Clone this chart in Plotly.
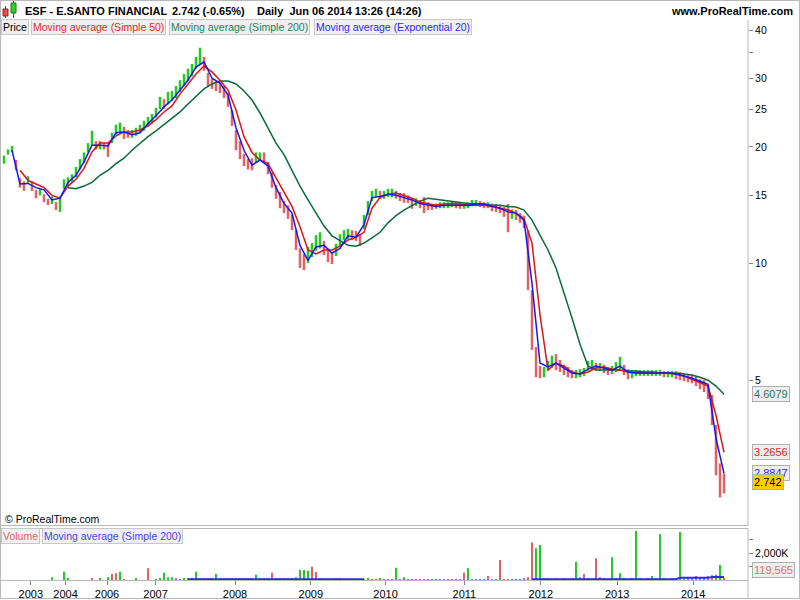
import math
import plotly.graph_objects as go

# ---------------- data ----------------
symbol = "ESF - E.SANTO FINANCIAL"
last_close = 2.742
change_pct = -0.65
stamp = "Daily  Jun 06 2014 13:26 (14:26)"
site = "www.ProRealTime.com"

# price bars (sampled bars, high / low)
high = [
    19.0, 19.7, 20.1, 18.5, 16.6, 16.3, 16.8, 16.3, 15.5, 15.6,
    15.1, 14.7, 14.9, 14.4, 14.9, 16.5, 16.7, 17.0, 17.75, 18.6,
    19.35, 20.45, 22.0, 20.7, 20.7, 20.45, 20.45, 21.75, 22.8, 23.1,
    22.5, 22.1, 22.1, 22.4, 22.8, 23.35, 23.9, 24.3, 25.2, 26.9,
    26.55, 27.7, 27.85, 28.7, 29.7, 30.8, 31.8, 32.7, 34.1, 36.0,
    34.1, 31.0, 29.9, 29.55, 29.2, 28.7, 27.5, 24.9, 22.1, 20.7,
    19.2, 18.6, 18.7, 19.35, 19.35, 19.35, 18.3, 17.2, 15.95, 15.3,
    14.5, 14.15, 13.4, 12.2, 10.95, 10.6, 11.05, 11.3, 11.85, 12.05,
    11.45, 10.95, 10.7, 11.25, 11.9, 12.2, 12.3, 12.2, 12.15, 11.9,
    13.35, 14.5, 15.4, 15.6, 15.4, 15.4, 15.6, 15.6, 15.4, 15.2,
    15.2, 15.0, 14.7, 14.75, 14.6, 14.85, 14.4, 14.25, 14.3, 14.4,
    14.4, 14.4, 14.5, 14.4, 14.3, 14.3, 14.4, 14.6, 14.6, 14.5,
    14.4, 14.4, 14.3, 14.25, 14.15, 14.0, 14.25, 13.8, 13.75, 13.5,
    13.3, 12.2, 8.55, 6.1, 5.45, 5.42, 5.62, 5.8, 5.85, 5.65,
    5.49, 5.42, 5.32, 5.32, 5.35, 5.39, 5.62, 5.65, 5.55, 5.55,
    5.49, 5.42, 5.45, 5.58, 5.75, 5.49, 5.35, 5.32, 5.32, 5.32,
    5.32, 5.32, 5.32, 5.32, 5.32, 5.29, 5.29, 5.29, 5.29, 5.26,
    5.23, 5.2, 5.17, 5.14, 5.04, 5.01, 4.87, 4.59, 3.84, 3.06,
    2.88,
]
low = [
    18.1, 19.1, 19.4, 17.4, 15.7, 15.4, 16.05, 15.4, 14.75, 15.0,
    14.4, 14.15, 14.25, 13.75, 13.6, 15.6, 15.8, 16.2, 16.7, 17.5,
    18.2, 19.35, 20.2, 19.7, 19.7, 19.7, 18.85, 20.45, 21.5, 21.75,
    20.95, 21.1, 21.1, 21.35, 21.75, 22.0, 22.5, 22.95, 23.8, 25.05,
    25.05, 25.75, 26.25, 26.7, 27.7, 28.7, 29.55, 30.4, 31.8, 32.5,
    31.4, 28.55, 28.2, 27.85, 27.5, 26.7, 25.35, 22.65, 19.6, 18.6,
    17.85, 17.5, 17.4, 18.2, 18.4, 18.2, 17.0, 15.7, 14.7, 13.9,
    13.5, 13.05, 12.2, 10.85, 9.75, 9.63, 10.05, 10.4, 10.8, 10.95,
    10.53, 10.1, 9.98, 10.47, 11.1, 11.5, 11.55, 11.5, 11.45, 11.1,
    12.3, 13.35, 14.5, 14.85, 14.7, 14.7, 14.85, 14.85, 14.7, 14.5,
    14.35, 14.35, 13.85, 14.1, 13.9, 13.5, 13.75, 13.75, 13.85, 13.9,
    13.9, 13.9, 14.0, 13.9, 13.85, 13.85, 13.9, 14.05, 14.05, 14.0,
    13.9, 13.9, 13.65, 13.6, 13.5, 13.2, 12.05, 13.05, 12.96, 12.75,
    12.35, 8.55, 6.0, 5.1, 5.07, 5.1, 5.3, 5.39, 5.32, 5.26,
    5.17, 5.1, 5.07, 5.07, 5.1, 5.14, 5.3, 5.32, 5.3, 5.3,
    5.23, 5.17, 5.2, 5.26, 5.3, 5.17, 5.04, 5.07, 5.14, 5.14,
    5.14, 5.14, 5.14, 5.14, 5.14, 5.1, 5.1, 5.1, 5.04, 5.01,
    4.98, 4.95, 4.92, 4.84, 4.75, 4.67, 4.48, 3.84, 2.85, 2.5,
    2.56,
]

# moving averages, read every second bar
sma50 = [
    None, None, 17.4, 16.4, 16.05, 15.7, 15.0, 14.75, 15.85, 16.5,
    17.6, 19.4, 20.45, 20.45, 21.35, 21.85, 21.85, 22.1, 22.65, 23.5,
    24.6, 25.5, 27.35, 29.05, 30.8, 32.3, 31.2, 29.7, 28.0, 24.9,
    21.25, 19.35, 18.5, 18.1, 16.6, 15.3, 14.05, 12.45, 10.85, 10.6,
    10.85, 10.85, 11.1, 11.5, 11.7, 12.05, 13.9, 14.8, 15.1, 15.2,
    15.0, 14.75, 14.4, 14.25, 14.15, 14.25, 14.3, 14.25, 14.15, 14.15,
    14.15, 14.05, 13.9, 13.75, 13.5, 13.05, 11.3, 7.38, 5.32, 5.55,
    5.45, 5.26, 5.2, 5.26, 5.39, 5.42, 5.35, 5.32, 5.26, 5.23,
    5.23, 5.23, 5.23, 5.23, 5.2, 5.14, 5.04, 4.95, 4.84, 4.07,
    3.2656,
]
ema20 = [
    None, 19.6, 16.05, 16.1, 15.7, 15.5, 14.6, 14.75, 16.2, 16.9,
    18.3, 20.2, 20.2, 20.1, 21.75, 21.85, 21.5, 21.75, 22.95, 24.05,
    25.35, 26.4, 28.0, 29.7, 32.1, 33.1, 30.05, 29.2, 27.2, 22.4,
    19.6, 17.95, 18.5, 17.85, 15.7, 14.3, 13.5, 11.15, 10.2, 11.05,
    11.15, 10.65, 10.95, 11.8, 11.7, 12.6, 14.8, 14.9, 15.1, 15.0,
    14.8, 14.6, 14.3, 14.15, 14.05, 14.15, 14.15, 14.15, 14.15, 14.25,
    14.25, 14.05, 13.9, 13.6, 13.5, 12.95, 8.9, 5.55, 5.42, 5.55,
    5.39, 5.23, 5.2, 5.35, 5.45, 5.39, 5.32, 5.45, 5.26, 5.23,
    5.23, 5.23, 5.23, 5.23, 5.2, 5.14, 5.07, 4.98, 4.89, 3.55,
    2.8847,
]
sma200 = [
    None, None, None, None, None, None, None, None, 15.7, 15.6,
    15.85, 16.2, 16.9, 17.4, 18.1, 18.7, 19.6, 20.45, 21.25, 22.0,
    22.8, 23.65, 24.6, 25.8, 27.05, 28.2, 29.05, 29.55, 29.55, 29.05,
    27.85, 26.4, 24.45, 22.4, 20.45, 19.1, 17.4, 15.85, 14.6, 13.5,
    12.5, 11.8, 11.45, 11.15, 11.1, 11.3, 11.65, 12.05, 12.75, 13.3,
    13.75, 14.15, 14.5, 14.75, 14.65, 14.6, 14.5, 14.4, 14.3, 14.25,
    14.25, 14.15, 14.15, 14.05, 14.0, 13.75, 12.95, 11.85, 10.85, 9.75,
    8.45, 7.25, 6.2, 5.45, 5.32, 5.32, 5.32, 5.32, 5.29, 5.29,
    5.26, 5.26, 5.23, 5.23, 5.23, 5.2, 5.17, 5.1, 5.01, 4.84,
    4.6079,
]

# volume in thousands of shares per sampled bar
volume_k = [
    0, 0, 0, 0, 0, 0, 0, 0, 0, 0,
    0, 0, 200, 0, 0, 620, 100, 0, 0, 0,
    0, 0, 100, 0, 150, 0, 200, 450, 500, 620,
    60, 0, 0, 80, 0, 0, 875, 0, 60, 80,
    550, 200, 200, 80, 60, 150, 80, 100, 620, 120,
    90, 100, 80, 450, 100, 80, 150, 100, 80, 100,
    90, 80, 100, 400, 80, 90, 100, 550, 100, 80,
    80, 100, 150, 200, 750, 750, 700, 1000, 600, 100,
    60, 50, 60, 80, 150, 50, 40, 50, 60, 40,
    30, 120, 30, 40, 150, 30, 40, 50, 925, 60,
    200, 30, 20, 20, 30, 20, 20, 30, 20, 40,
    30, 20, 20, 30, 60, 550, 875, 40, 30, 40,
    30, 300, 30, 30, 1500, 40, 60, 30, 40, 60,
    150, 200, 2800, 2370, 2620, 80, 100, 60, 80, 60,
    150, 60, 80, 1370, 200, 450, 80, 60, 1620, 200,
    80, 60, 1700, 100, 500, 80, 60, 80, 3670, 100,
    60, 80, 300, 60, 3450, 80, 60, 100, 80, 3600,
    60, 80, 100, 300, 150, 200, 300, 350, 400, 1120,
    119.565,
]
volume_down_bars = [22, 27, 28, 30, 36, 43, 50, 56, 60, 61, 67, 69, 77, 78, 83, 85, 88,
                    104, 110, 115, 121, 124, 126, 130, 131, 132, 138, 141, 145, 148, 149,
                    150, 156, 160, 166, 171, 173, 176, 177, 180]
vol_ma_bar = [46, 90, None, 132, 168, 169, 176, 177, 180]
vol_ma_k = [60, 60, None, 60, 60, 160, 160, 230, 230]

year_labels = ["2003", "2004", "2006", "2007", "2008", "2009", "2010", "2011", "2012", "2013", "2014"]
year_bar = [6.7, 15.4, 25.75, 37.9, 57.75, 76.7, 95.4, 115.1, 134.2, 153.3, 172.3]
price_ticks = [5, 10, 15, 20, 25, 30, 35, 40]
price_tick_labels = ["5", "10", "15", "20", "25", "30", "", "40"]
vol_ticks_k = [1000, 2000, 3000]
vol_tick_labels = ["", "2,000K", ""]

assert len(high) == len(low) == len(volume_k)
assert len(sma50) == len(ema20) == len(sma200)

# ---------------- figure ----------------
W, H = 800, 600
FONT = "Arial, Liberation Sans, sans-serif"
UP = "#22c922"
DOWN = "#e06262"
C_SMA50 = "#e01414"
C_SMA200 = "#0b6a3a"
C_EMA20 = "#1717f5"
GRID = "#b9b9b9"

n = len(high)
bars = list(range(n))
ma_bars = bars[::2]

def px(x):
    return x / W

def py(y):
    return 1 - y / H

mid = [(h + l) / 2 for h, l in zip(high, low)]
up_x, up_y, dn_x, dn_y = [], [], [], []
for i in bars:
    rising = i == 0 or mid[i] >= mid[i - 1]
    xs, ys = (up_x, up_y) if rising else (dn_x, dn_y)
    xs += [i, i, None]
    ys += [low[i], high[i], None]

fig = go.Figure()
fig.add_trace(go.Scatter(x=up_x, y=up_y, mode="lines", line=dict(color=UP, width=2.5),
                         xaxis="x", yaxis="y", hoverinfo="skip"))
fig.add_trace(go.Scatter(x=dn_x, y=dn_y, mode="lines", line=dict(color=DOWN, width=2.5),
                         xaxis="x", yaxis="y", hoverinfo="skip"))
fig.add_trace(go.Scatter(x=ma_bars, y=sma200, mode="lines", line=dict(color=C_SMA200, width=1.5),
                         xaxis="x", yaxis="y", hoverinfo="skip"))
fig.add_trace(go.Scatter(x=ma_bars, y=sma50, mode="lines", line=dict(color=C_SMA50, width=1.5),
                         xaxis="x", yaxis="y", hoverinfo="skip"))
fig.add_trace(go.Scatter(x=ma_bars, y=ema20, mode="lines", line=dict(color=C_EMA20, width=1.5),
                         xaxis="x", yaxis="y", hoverinfo="skip"))

vol_colors = [DOWN if i in volume_down_bars else UP for i in bars]
fig.add_trace(go.Bar(x=bars, y=[v * 1000 for v in volume_k], width=0.35,
                     marker=dict(color=vol_colors, line=dict(width=0)),
                     xaxis="x2", yaxis="y2", hoverinfo="skip"))
fig.add_trace(go.Scatter(x=vol_ma_bar, y=[None if v is None else v * 1000 for v in vol_ma_k],
                         mode="lines", line=dict(color="#2a2af0", width=2),
                         xaxis="x2", yaxis="y2", hoverinfo="skip", connectgaps=False))

x_dom = [px(1), px(748)]
x_rng = [-0.75, 186]
price_dom = [py(525), py(20)]
log_top = math.log10(40) + (30 - 20) / 388.2
log_bot = math.log10(40) - (525 - 30) / 388.2

fig.update_layout(
    width=W, height=H, margin=dict(l=0, r=0, t=0, b=0),
    paper_bgcolor="white", plot_bgcolor="white", showlegend=False,
    font=dict(family=FONT, size=11, color="black"),
    xaxis=dict(domain=x_dom, range=x_rng, anchor="y", showticklabels=False, ticks="",
               showgrid=False, zeroline=False, showline=False),
    yaxis=dict(domain=price_dom, type="log", range=[log_bot, log_top], side="right", anchor="x",
               tickvals=price_ticks, ticktext=price_tick_labels, ticks="outside", ticklen=4,
               tickcolor="#808080", tickfont=dict(size=10.5, color="black"),
               showgrid=False, zeroline=False, showline=False),
    xaxis2=dict(domain=x_dom, range=x_rng, anchor="y2", tickvals=year_bar, ticktext=year_labels,
                ticks="outside", ticklen=4, tickcolor="#808080", tickfont=dict(size=11, color="black"),
                showgrid=False, zeroline=False, showline=False),
    yaxis2=dict(domain=[py(580), py(529)], range=[0, 3820000], side="right", anchor="x2",
                tickvals=[v * 1000 for v in vol_ticks_k], ticktext=vol_tick_labels,
                ticks="outside", ticklen=4, tickcolor="#808080", tickfont=dict(size=10.5, color="black"),
                showgrid=False, zeroline=False, showline=False),
)

# frame lines
shapes = []
def hline(y, x0, x1):
    shapes.append(dict(type="line", xref="paper", yref="paper", x0=px(x0), x1=px(x1),
                       y0=py(y), y1=py(y), line=dict(color=GRID, width=1)))
def vline(x, y0, y1):
    shapes.append(dict(type="line", xref="paper", yref="paper", x0=px(x), x1=px(x),
                       y0=py(y0), y1=py(y1), line=dict(color=GRID, width=1)))
hline(0.5, 0, 800)
hline(598.5, 0, 800)
vline(0.5, 0, 599)
vline(799.5, 0, 599)
hline(525.5, 0, 748)
hline(528.5, 0, 748)
hline(580.5, 0, 748)
vline(748, 20, 525.5)
vline(748, 528.5, 599)
# header icon (two little candles)
shapes.append(dict(type="line", xref="paper", yref="paper", x0=px(5.5), x1=px(5.5), y0=py(6), y1=py(18),
                   line=dict(color="#c02020", width=1)))
shapes.append(dict(type="rect", xref="paper", yref="paper", x0=px(3), x1=px(8), y0=py(9), y1=py(16),
                   fillcolor="#e05050", line=dict(color="#a02020", width=1)))
shapes.append(dict(type="line", xref="paper", yref="paper", x0=px(13.5), x1=px(13.5), y0=py(1), y1=py(18),
                   line=dict(color="#108010", width=1)))
shapes.append(dict(type="rect", xref="paper", yref="paper", x0=px(11), x1=px(16), y0=py(3), y1=py(13),
                   fillcolor="#33cc33", line=dict(color="#108010", width=1)))
fig.update_layout(shapes=shapes)

ann = []
def text(x, y, s, color="black", anchor="left", size=11, bg=None, border=None, yref="paper"):
    d = dict(x=px(x), y=y, xref="paper", yref=yref, text=s, showarrow=False, xanchor=anchor,
             yanchor="middle", font=dict(family=FONT, size=size, color=color))
    if bg:
        d.update(bgcolor=bg, bordercolor=border or "#c8c8c8", borderwidth=1, borderpad=1)
    ann.append(d)

text(23, py(11), f"<b>{symbol}</b>")
text(170, py(11), f"<b>{last_close} ({change_pct:.2f}%)</b>")
text(255, py(11), f"<b>{stamp}</b>")
text(795, py(11), f"<b>{site}</b>", anchor="right")

LBG = "#f0f0f0"
LS = 10.5
text(1, py(27), "Price", "black", bg=LBG, size=LS)
text(31, py(27), "Moving average (Simple 50)", "#e02828", bg=LBG, size=LS)
text(169, py(27), "Moving average (Simple 200)", "#22805a", bg=LBG, size=LS)
text(314, py(27), "Moving average (Exponential 20)", "#2a2af5", bg=LBG, size=LS)
text(3, py(519), "© ProRealTime.com", size=LS)
text(1, py(536), "Volume", "#e06666", bg=LBG, size=LS)
text(42, py(536), "Moving average (Simple 200)", "#4545f0", bg=LBG, size=LS)

text(752, math.log10(sma200[-1]), f"{sma200[-1]:.4f}", "#22805a", bg="#eeeeee", border="#b0b0b0", yref="y")
text(752, math.log10(sma50[-1]), f"{sma50[-1]:.4f}", "#e02828", bg="#eeeeee", border="#b0b0b0", yref="y")
text(752, math.log10(ema20[-1]), f"{ema20[-1]:.4f}", "#2a2af5", bg="#eeeeee", border="#b0b0b0", yref="y")
text(752, math.log10(last_close), f"{last_close}", "black", bg="#ffcc00", border="#b0b0b0", yref="y")
text(752, py(570), f"{volume_k[-1] * 1000:,.0f}", "#e07070", bg="#eeeeee", border="#b0b0b0")
fig.update_layout(annotations=ann)

fig.write_html("out.html", config={"displayModeBar": False},
               post_script="document.body.style.margin='0';document.body.style.overflow='hidden';")
